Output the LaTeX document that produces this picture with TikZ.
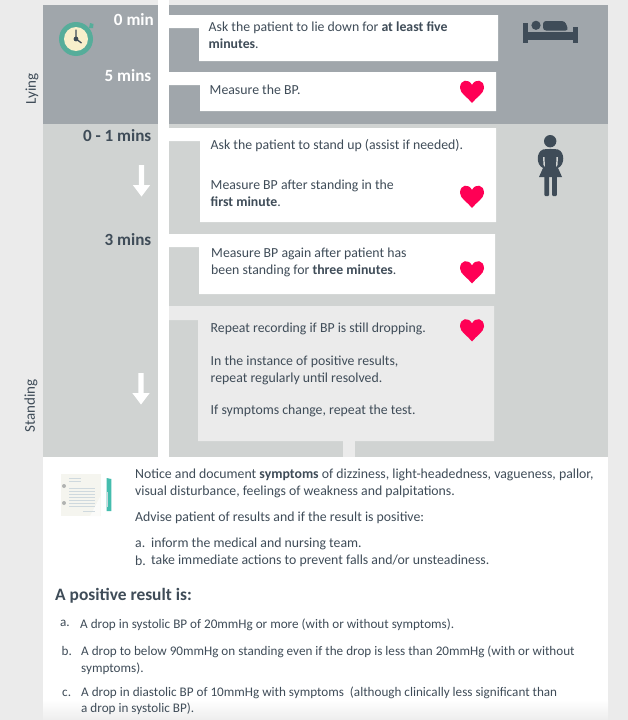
\documentclass[tikz,border=0pt]{standalone}
\usepackage{fontspec}
\setmainfont{Carlito}
\usetikzlibrary{shadings}
\definecolor{pagebg}{HTML}{EBEBEB}
\definecolor{darkband}{HTML}{A0A6AB}
\definecolor{lightband}{HTML}{D0D3D2}
\definecolor{ink}{HTML}{3F4C58}
\definecolor{heartc}{HTML}{FF0055}
\definecolor{teal}{HTML}{56AD9A}
\definecolor{cream}{HTML}{F8EFCB}
\definecolor{paper}{HTML}{F5F5EF}
\definecolor{paperline}{HTML}{CFD9DE}
\tikzset{
  x=1pt,y=-1pt,
  body/.style={anchor=west,inner sep=0pt,text=ink,font=\fontsize{13.8}{17}\selectfont,align=left},
  small/.style={anchor=west,inner sep=0pt,text=ink,font=\fontsize{13.15}{16.5}\selectfont,align=left},
  timelab/.style={anchor=east,inner sep=0pt,font=\fontsize{17.1}{20}\selectfont\bfseries},
  side/.style={rotate=90,inner sep=0pt,text=ink,font=\fontsize{15}{18}\selectfont},
}
\newcommand{\heartshape}[2]{%
  \fill[heartc] (#1,#2+11.5) .. controls (#1-4,#2+6) and (#1-12,#2+2) .. (#1-12,#2-3.5)
   .. controls (#1-12,#2-12.5) and (#1-3,#2-13) .. (#1,#2-6.5)
   .. controls (#1+3,#2-13) and (#1+12,#2-12.5) .. (#1+12,#2-3.5)
   .. controls (#1+12,#2+2) and (#1+4,#2+6) .. (#1,#2+11.5) -- cycle;}
\newcommand{\downarrowicon}[2]{%
  \fill[white] (#1-2.7,#2) -- (#1+2.7,#2) -- (#1+2.7,#2+20) -- (#1+8.7,#2+20) -- (#1,#2+31.5) -- (#1-8.7,#2+20) -- (#1-2.7,#2+20) -- cycle;}
\begin{document}
\begin{tikzpicture}
\useasboundingbox (0,0) rectangle (628,720);
\fill[pagebg] (0,0) rectangle (628,720);
% bands
\fill[darkband] (43,5) rectangle (608,124);
\fill[lightband] (43,124) rectangle (608,457);
\fill[white] (43,457) rectangle (608,700);
\shade[top color=white,bottom color=white!93!black] (43,700) rectangle (608,720);
\fill[white] (158,0) rectangle (169,457);
% step boxes
\fill[white] (169,15) -- (498,15) -- (498,61) -- (199,61) -- (199,28) -- (169,28) -- cycle;
\fill[white] (169,72) -- (496,72) -- (496,111) -- (200,111) -- (200,85) -- (169,85) -- cycle;
\fill[white] (169,128) -- (496,128) -- (496,222) -- (200,222) -- (200,141) -- (169,141) -- cycle;
\fill[white] (169,234) -- (495,234) -- (495,294) -- (199,294) -- (199,247) -- (169,247) -- cycle;
\fill[pagebg] (169,306) -- (494,306) -- (494,441) -- (198,441) -- (198,320) -- (169,320) -- cycle;
\fill[pagebg] (343,441) rectangle (355,457);
% side labels
\node[side] (lying) at (32,89) {Lying};
\node[side] (standing) at (31,406) {Standing};
% time labels
\node[timelab,text=white] (t0) at (154,20) {0 min};
\node[timelab,text=white] (t5) at (151.5,76) {5 mins};
\node[timelab,text=ink] (t01) at (151.5,136) {0 - 1 mins};
\node[timelab,text=ink] (t3) at (151.5,240) {3 mins};
% clock
\fill[teal] (90,23) -- (93.5,24) -- (93,28) -- (89,28) -- cycle;
\fill[teal] (76,39) circle (17);
\fill[cream] (76,39) circle (12);
\draw[ink,line width=1.3pt] (76,29.5) -- (76,39) -- (81.5,43);
\fill[ink] (76,39) circle (2.4);
% arrows
\downarrowicon{141.5}{165}
\downarrowicon{141}{373}
% step texts
\node[body] (s1) at (208.5,35.5) {Ask the patient to lie down for \textbf{at least five}\\\textbf{minutes}.};
\node[body] (s2) at (209.5,89.5) {Measure the BP.};
\node[body] (s3a) at (210.5,145.5) {Ask the patient to stand up (assist if needed).};
\node[body] (s3b) at (210.5,193) {Measure BP after standing in the\\\textbf{first minute}.};
\node[body] (s4) at (211,262) {Measure BP again after patient has\\been standing for \textbf{three minutes}.};
\node[body] (s5a) at (210.5,328.5) {Repeat recording if BP is still dropping.};
\node[body] (s5b) at (210.5,370.5) {In the instance of positive results,\\repeat regularly until resolved.};
\node[body] (s5c) at (210.5,410.5) {If symptoms change, repeat the test.};
% hearts
\heartshape{472}{91.5}
\heartshape{472}{196.5}
\heartshape{472}{272}
\heartshape{472}{330}
% bed
\fill[ink] (522.7,22.7) rectangle (527.5,43);
\fill[ink] (573,27) rectangle (577.5,43);
\fill[ink] (522.7,32) rectangle (577.5,40);
\fill[ink] (536,25.3) circle (4.6);
\fill[ink,rounded corners=3pt] (543,30.5) -- (543,21) -- (565,21) -- (568.5,30.5) -- cycle;
% person
\fill[ink] (550.2,141.2) circle (6.2);
\fill[ink] (543,149.5) .. controls (546,148.8) and (555,148.8) .. (558,149.5)
  .. controls (565,152) and (565,165) .. (558,168) -- (562,177) -- (539,177) -- (543,168)
  .. controls (536,165) and (536,152) .. (543,149.5) -- cycle;
\fill[lightband] (543,157) -- (544.5,157) -- (545,167) -- (543.5,165) -- cycle;
\fill[lightband] (558,157) -- (556.5,157) -- (556,167) -- (557.5,165) -- cycle;
\fill[ink,rounded corners=1pt] (544.3,176) rectangle (549.2,196);
\fill[ink,rounded corners=1pt] (552,176) rectangle (556.9,196);
% notes icon
\fill[paper] (61,473.5) rectangle (100.5,516);
\fill[white!60!paper] (100.5,474) -- (100.5,496) -- (90,516) -- (100.5,516) -- cycle;
\fill[lightband!85!black] (64,486) circle (2);
\fill[lightband!85!black] (64,503) circle (2);
\foreach \yy in {478,481} \draw[paperline,line width=.9pt] (69,\yy) -- (81,\yy);
\foreach \yy in {488,491,494,497,500,503,506} \draw[paperline,line width=.9pt] (69,\yy) -- (95,\yy);
\draw[paperline,line width=.9pt] (83,511) -- (95,511);
\fill[teal!80!cyan] (106.5,478) -- (111.3,479) -- (111.3,511) -- (106.5,511) -- cycle;
\fill[paperline] (106.5,492) rectangle (108,507);
% lower text
\node[body] (n1) at (135,483) {Notice and document \textbf{symptoms} of dizziness, light-headedness, vagueness, pallor,\\visual disturbance, feelings of weakness and palpitations.};
\node[body] (n2) at (135,518) {Advise patient of results and if the result is positive:};
\node[body] (na) at (135,544) {a.};
\node[body] (nat) at (151,544) {inform the medical and nursing team.};
\node[body] (nb) at (135,560.5) {b.};
\node[body] (nbt) at (151,560.5) {take immediate actions to prevent falls and/or unsteadiness.};
\node[anchor=west,inner sep=0pt,text=ink,font=\fontsize{17.4}{20}\selectfont\bfseries] (head) at (55,595.5) {A positive result is:};
\node[small] (pa) at (60,623) {a.};
\node[small] (pat) at (80,624.5) {A drop in systolic BP of 20mmHg or more (with or without symptoms).};
\node[small] (pb) at (61.5,651) {b.};
\node[small] (pbt) at (81,660) {A drop to below 90mmHg on standing even if the drop is less than 20mmHg (with or without\\symptoms).};
\node[small] (pc) at (62,693) {c.};
\node[small] (pct) at (81,700.5) {A drop in diastolic BP of 10mmHg with symptoms\ \ (although clinically less significant than\\a drop in systolic BP).};
\end{tikzpicture}
\end{document}
